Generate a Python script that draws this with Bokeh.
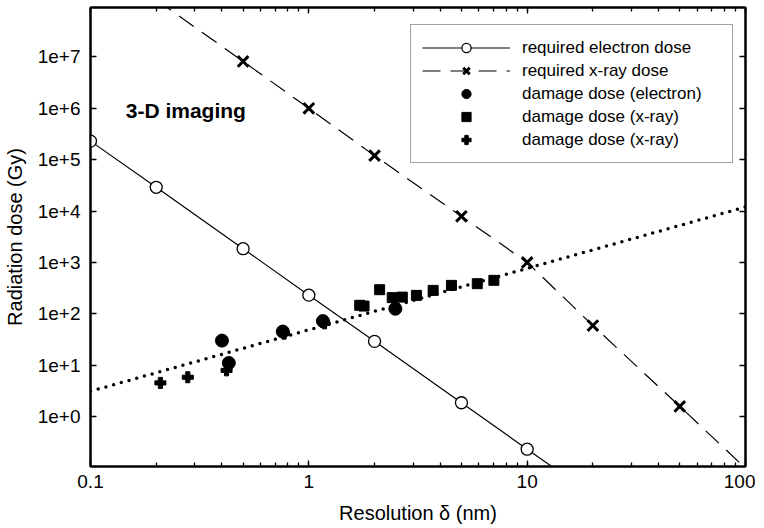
from bokeh.plotting import figure
from bokeh.models import (LogAxis, LogTicker, FixedTicker, Legend, LegendItem, Label,
                          CustomJSTickFormatter, Range1d)
from bokeh.embed import file_html
from bokeh.resources import INLINE

FONT = "Liberation Sans"

# ---- data ----
# required electron dose (open circles + solid line)
e_req_x = [0.1, 0.2, 0.5, 1, 2, 5, 10]
e_req_y = [2.3e5, 2.9e4, 1.85e3, 2.3e2, 29, 1.85, 0.23]
e_line_x = [0.1, 0.2, 0.5, 1, 2, 5, 10, 20]
e_line_y = [2.3e5, 2.9e4, 1.85e3, 2.3e2, 29, 1.85, 0.23, 0.029]

# required x-ray dose (crosses + dashed line)
x_req_x = [0.5, 1, 2, 5, 10, 20, 50]
x_req_y = [8.2e6, 1.0e6, 1.2e5, 7.9e3, 1.0e3, 59, 1.57]
x_line_x = [0.2, 0.5, 1, 2, 5, 10, 20, 50, 100]
x_line_y = [1.3e8, 8.2e6, 1.0e6, 1.2e5, 7.9e3, 1.0e3, 59, 1.57, 0.098]

# damage dose (electron) - filled circles
dmg_e_x = [0.40, 0.43, 0.76, 1.16, 2.49]
dmg_e_y = [30, 11, 45, 72, 125]

# damage dose (x-ray) - squares
dmg_xsq_x = [1.71, 1.79, 2.11, 2.41, 2.68, 3.11, 3.71, 4.50, 5.91, 7.04]
dmg_xsq_y = [146, 141, 294, 206, 211, 228, 285, 357, 385, 447]

# damage dose (x-ray) - plus markers
dmg_xpl_x = [0.209, 0.279, 0.42, 0.77, 1.18]
dmg_xpl_y = [4.5, 5.8, 7.9, 41, 65]

# dotted trend line of damage dose
fit_x = [0.1, 100]
fit_y = [3.1, 1.2e4]

y_ticks = [1e0, 1e1, 1e2, 1e3, 1e4, 1e5, 1e6, 1e7]

# ---- figure ----
p = figure(x_axis_type="log", y_axis_type="log",
           x_range=Range1d(0.1, 100), y_range=Range1d(0.106, 9.2e7),
           frame_width=655, frame_height=459,
           min_border_left=90, min_border_right=10, min_border_top=7, min_border_bottom=60,
           output_backend="svg", toolbar_location=None,
           background_fill_color="white", border_fill_color="white")
p.grid.visible = False
p.outline_line_color = "black"
p.outline_line_width = 2

xax = p.xaxis[0]
yax = p.yaxis[0]
xax.ticker = LogTicker(num_minor_ticks=10)
yax.ticker = FixedTicker(ticks=y_ticks, minor_ticks=[])
xax.formatter = CustomJSTickFormatter(code="return tick < 1 ? tick.toFixed(1) : tick.toFixed(0);")
yax.formatter = CustomJSTickFormatter(code="return '1e+' + Math.round(Math.log10(tick));")
xax.axis_label = "Resolution δ (nm)"
yax.axis_label = "Radiation dose (Gy)"

for ax in (xax, yax):
    ax.axis_line_width = 2
    ax.axis_line_color = "black"
    ax.major_tick_in = 6
    ax.major_tick_out = 0
    ax.minor_tick_in = 4
    ax.minor_tick_out = 0
    ax.major_tick_line_width = 1.3
    ax.minor_tick_line_width = 1.3
    ax.major_tick_line_color = "black"
    ax.minor_tick_line_color = "black"
    ax.major_label_text_font = FONT
    ax.major_label_text_font_size = "19px"
    ax.major_label_text_color = "black"
    ax.axis_label_text_font = FONT
    ax.axis_label_text_font_size = "20px"
    ax.axis_label_text_font_style = "normal"
    ax.axis_label_text_color = "black"
yax.minor_tick_line_color = None
xax.major_label_standoff = 8
yax.major_label_standoff = 10
xax.axis_label_standoff = 11
yax.axis_label_standoff = 9

# mirrored axes (ticks only)
top = LogAxis(ticker=LogTicker(num_minor_ticks=10),
              formatter=CustomJSTickFormatter(code="return '';"))
right = LogAxis(ticker=FixedTicker(ticks=y_ticks, minor_ticks=[]),
                formatter=CustomJSTickFormatter(code="return '';"))
for ax in (top, right):
    ax.axis_line_width = 2
    ax.major_tick_in = 6
    ax.major_tick_out = 0
    ax.minor_tick_in = 4
    ax.minor_tick_out = 0
    ax.major_tick_line_width = 1.3
    ax.minor_tick_line_width = 1.3
    ax.major_label_text_font_size = "0px"
    ax.major_label_standoff = 0
right.minor_tick_line_color = None
p.add_layout(top, "above")
p.add_layout(right, "right")

# ---- glyphs ----
fit = p.line(fit_x, fit_y, line_color="black", line_width=3.5, line_dash="0 8", line_cap="round")
el = p.line(e_line_x, e_line_y, line_color="black", line_width=1.2)
xl = p.line(x_line_x, x_line_y, line_color="black", line_width=1.2, line_dash="18 10")

pl = p.scatter(dmg_xpl_x, dmg_xpl_y, marker="plus", size=11, fill_color="black", line_color="black")
ec = p.scatter(dmg_e_x, dmg_e_y, marker="circle", size=13, fill_color="black", line_color="black")
sq = p.scatter(dmg_xsq_x, dmg_xsq_y, marker="square", size=10, fill_color="black", line_color="black")
eo = p.scatter(e_req_x, e_req_y, marker="circle", size=12, fill_color="white", line_color="black", line_width=1.3)
xm = p.scatter(x_req_x, x_req_y, marker="x", size=15, line_color="black", line_width=3)

p.add_layout(Label(x=0.145, y=9.2e5, text="3-D imaging", text_font=FONT, text_font_style="bold",
                   text_font_size="21px", text_color="black", text_baseline="alphabetic"))

legend = Legend(items=[
    LegendItem(label="required electron dose", renderers=[el, eo]),
    LegendItem(label="required x-ray dose", renderers=[xl, xm]),
    LegendItem(label="damage dose (electron)", renderers=[ec]),
    LegendItem(label="damage dose (x-ray)", renderers=[sq]),
    LegendItem(label="damage dose (x-ray)", renderers=[pl]),
], location=(320, 303), padding=11, spacing=0, glyph_width=88, glyph_height=23,
    label_height=23, label_standoff=12, label_width=199,
    label_text_font=FONT, label_text_font_size="17px", label_text_color="black",
    border_line_color="#444444", border_line_width=1, background_fill_alpha=1.0, margin=0)
p.add_layout(legend)

open("out.html", "w").write(file_html(p, INLINE))
